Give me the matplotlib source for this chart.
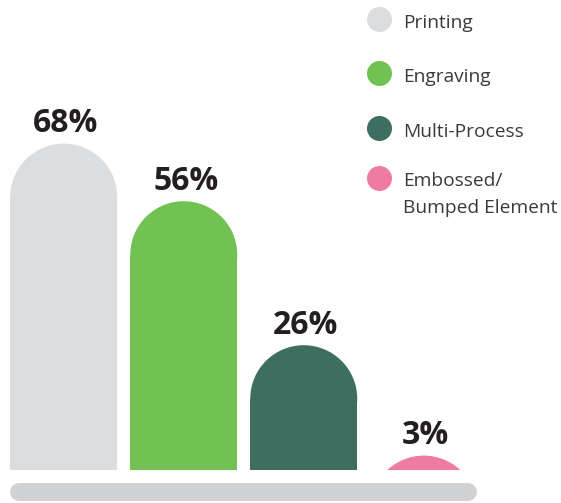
import matplotlib
matplotlib.use("Agg")
import matplotlib.pyplot as plt
from matplotlib.patches import Ellipse
import numpy as np

categories = ["Printing", "Engraving", "Multi-Process", "Embossed/\nBumped Element"]
values = [68, 56, 26, 3]
labels = ["68%", "56%", "26%", "3%"]
colors = ["#DCDDDE", "#72C153", "#3E6E60", "#EF7BA3"]

W, H, DPI = 561, 503, 100
fig = plt.figure(figsize=(W / DPI, H / DPI), dpi=DPI)
fig.patch.set_facecolor("white")

# plot area: value 0 sits at pixel row 470, 4.8 px per percent
base_px = 470
px_per_unit = 4.8
slot_px = 120.0
first_center_px = 63.75

ax = fig.add_axes([0, (H - base_px) / H, 1, base_px / H])
ax.set_ylim(0, base_px / px_per_unit)
ax.set_xlim(-first_center_px / slot_px, (W - first_center_px) / slot_px)
ax.axis("off")

x = np.arange(len(values))
bar_w = 107 / slot_px
rx = bar_w / 2
ry = (107 / 2) / px_per_unit  # round cap radius in value units

for xi, v, c in zip(x, values, colors):
    rect_h = max(v - ry, 0)
    if rect_h > 0:
        ax.bar(xi, rect_h, width=bar_w, color=c, linewidth=0)
    cap = Ellipse((xi, v - ry), 2 * rx, 2 * ry, facecolor=c, edgecolor="none")
    ax.add_patch(cap)

for xi, v, t in zip(x, values, labels):
    ax.annotate(t, (xi, v), xytext=(1.5, 8), textcoords="offset points",
                ha="center", va="baseline", fontsize=23, fontweight="bold",
                family="Open Sans", color="#231F20")

# rounded baseline bar under the columns
base_y = -(492 - base_px) / px_per_unit
cap_r = 9 / slot_px
ax.plot([x[0] - bar_w / 2 + cap_r, x[-1] + bar_w / 2 - cap_r], [base_y, base_y],
        color="#D1D2D4", linewidth=18 * 72 / DPI, solid_capstyle="round",
        clip_on=False)

# legend
leg_cy = [19, 73, 128, 177.5]
for cy, c, name in zip(leg_cy, colors, categories):
    fx, fy = 379 / W, 1 - cy / H
    fig.add_artist(plt.Line2D([fx], [fy], marker="o", markersize=25 * 72 / DPI,
                              markerfacecolor=c, markeredgecolor="none",
                              linestyle="none", transform=fig.transFigure))
    for i, line in enumerate(name.split("\n")):
        fig.text(403 / W, 1 - (cy + 8.5 + i * 27) / H, line, ha="left",
                 va="baseline", fontsize=13.8, family="Open Sans",
                 color="#3A3A3A")

fig.savefig("out.png", dpi=DPI, facecolor="white")
